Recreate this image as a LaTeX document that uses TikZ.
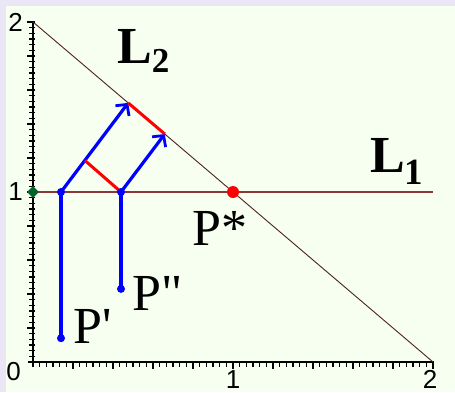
\documentclass[tikz,border=0pt]{standalone}
\usepackage{fontspec}
\setmainfont{Liberation Serif}
\setsansfont{Liberation Sans}
\usetikzlibrary{arrows.meta,positioning,shapes.geometric}

\begin{document}
\begin{tikzpicture}[
  x=200pt, y=170pt,
  >={Straight Barb[length=8pt,width=17pt,line width=2.8pt]},
  axis/.style={draw=black, line width=2pt},
  tickmark/.style={draw=black, line width=1.6pt},
  ray/.style={->, draw=cblue, line width=3.2pt},
  drop/.style={draw=cblue, line width=3.2pt},
  proj/.style={draw=cred, line width=3pt},
  dot/.style={circle, inner sep=0pt, minimum size=8pt},
  lbl/.style={font=\fontsize{52}{52}\selectfont, inner sep=0pt, anchor=base west},
  ticklbl/.style={font=\sffamily\fontsize{26}{26}\selectfont, inner sep=0pt}
]

\definecolor{cbg}{RGB}{234,230,246}
\definecolor{cpaper}{RGB}{246,255,240}
\definecolor{cblue}{RGB}{0,0,255}
\definecolor{cred}{RGB}{255,0,0}
\definecolor{cgreen}{RGB}{0,100,40}
\definecolor{cline}{RGB}{140,55,55}
\definecolor{cdiag}{RGB}{80,35,35}

\useasboundingbox (-33pt,-30pt) rectangle (422pt,362pt);
\clip (-33pt,-30pt) rectangle (422pt,362pt);
\fill[cbg] (-33pt,-30pt) rectangle (422pt,362pt);
\fill[cpaper] (-27pt,-30pt) rectangle (422pt,356pt);

\foreach \i in {1,...,60} {
  \draw[tickmark] ({\i*20/3 pt},1pt) -- ({\i*20/3 pt},-5pt);
  \draw[tickmark] (2pt,{\i*17/3 pt}) -- (-4pt,{\i*17/3 pt});
}
\foreach \i in {6,12,...,60} {
  \draw[tickmark] ({\i*20/3 pt},1pt) -- ({\i*20/3 pt},-7pt);
  \draw[tickmark] (2pt,{\i*17/3 pt}) -- (-6pt,{\i*17/3 pt});
}
\draw[axis] (-5pt,0) -- (2,0);
\draw[axis] (0,-5pt) -- (0,2);

\node[ticklbl, anchor=east] (ytwo) at (-10pt,2) {2};
\node[ticklbl, anchor=east] (yone) at (-10pt,1) {1};
\node[ticklbl, anchor=east] (zero) at (-12pt,-10pt) {0};
\node[ticklbl, anchor=north] (xone) at (1,-8pt) {1};
\node[ticklbl, anchor=north] (xtwo) at (1.985,-8pt) {2};

\coordinate (ltop) at (0,2);
\coordinate (lend) at (2,0);
\coordinate (hend) at (2,1);
\coordinate (g) at (0,1);
\coordinate (pstar) at (1,1);
\coordinate (pa) at (0.14,0.14);
\coordinate (pb) at (0.44,0.43);
\coordinate (qa) at (0.14,1);
\coordinate (qb) at (0.44,1);
\coordinate (ea) at (0.476,1.524);
\coordinate (eb) at (0.659,1.341);
\coordinate (r) at (0.26,1.185);

\draw[draw=cdiag, line width=0.9pt] (ltop) -- (lend);
\draw[draw=cline, line width=2.6pt] (g) -- (hend);

\draw[drop] (pa) -- (qa);
\draw[drop] (pb) -- (qb);
\draw[ray] (qa) -- (ea);
\draw[ray] (qb) -- (eb);
\draw[proj] (qb) -- (r);
\draw[proj] (ea) -- (eb);

\node[dot, fill=cblue] (dpa) at (pa) {};
\node[dot, fill=cblue] (dpb) at (pb) {};
\node[dot, fill=cblue] (dqa) at (qa) {};
\node[dot, fill=cblue] (dqb) at (qb) {};
\node[diamond, fill=cgreen, inner sep=0pt, minimum size=12pt] (dg) at (g) {};
\node[dot, fill=cred, minimum size=12pt] (dstar) at (pstar) {};

\node[lbl] (ltwo) at (84pt,299pt) {\textbf{L}\raisebox{-9pt}{\fontsize{35}{35}\selectfont\textbf{2}}};
\node[lbl] (lone) at (337pt,190pt) {\textbf{L}\raisebox{-12pt}{\fontsize{37}{37}\selectfont\textbf{1}}};
\node[lbl] (lstar) at (159pt,117pt) {P*};
\node[lbl] (lpb) at (99pt,52pt) {P\textquotedbl};
\node[lbl] (lpa) at (40pt,19pt) {P\textquotesingle};

\end{tikzpicture}
\end{document}
